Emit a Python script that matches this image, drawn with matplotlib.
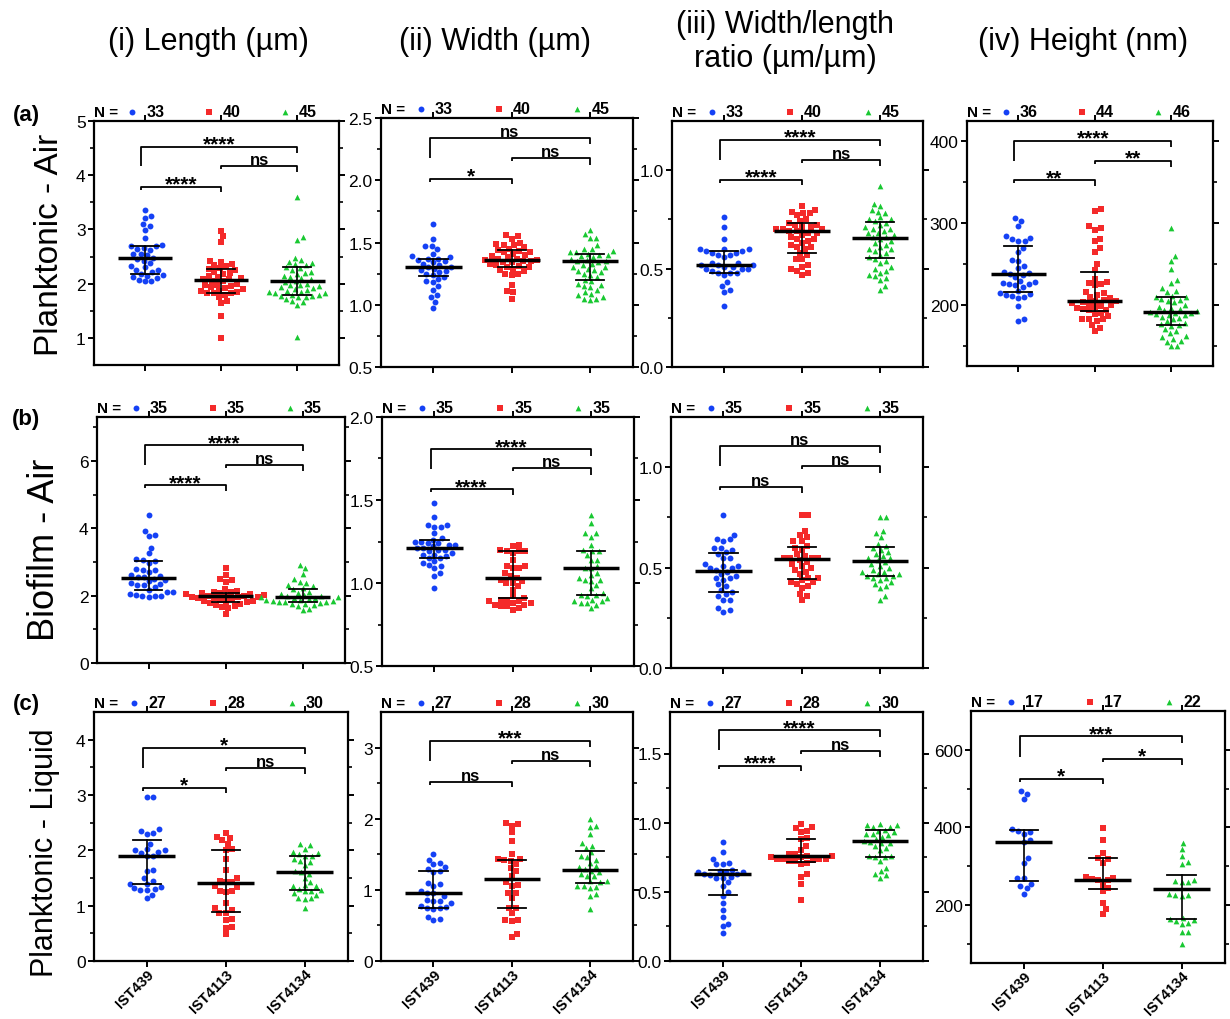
import numpy as np
import matplotlib
matplotlib.use("Agg")
import matplotlib.pyplot as plt
from matplotlib.transforms import offset_copy

plt.rcParams.update({
    "font.family": ["Liberation Sans", "DejaVu Sans"], "font.size": 12,
    "axes.linewidth": 1.6, "xtick.major.width": 1.4, "ytick.major.width": 1.4,
    "ytick.minor.width": 1.2, "xtick.major.size": 4, "ytick.major.size": 4,
    "ytick.minor.size": 3, "xtick.direction": "out", "ytick.direction": "out",
})

STRAINS = ["IST439", "IST4113", "IST4134"]
COLS = ["#1541f5", "#f42a2a", "#19c832"]
MARKS = ["o", "s", "^"]
MSIZE = [18, 15, 17]

# ---- (a) planktonic - air ----
a_len_439 = [3.35, 3.25, 3.21, 3.10, 3.07, 2.99, 2.84, 2.71, 2.70, 2.69, 2.65, 2.64, 2.62, 2.55, 2.54, 2.52, 2.48,
             2.45, 2.42, 2.38, 2.33, 2.30, 2.26, 2.25, 2.22, 2.18, 2.16, 2.15, 2.12, 2.10, 2.07, 2.05, 2.04]
a_len_4113 = [2.98, 2.87, 2.76, 2.42, 2.40, 2.36, 2.34, 2.32, 2.28, 2.27, 2.25, 2.22, 2.20, 2.18, 2.12, 2.10, 2.08,
              2.08, 2.05, 2.04, 2.00, 1.98, 1.97, 1.95, 1.93, 1.92, 1.90, 1.87, 1.86, 1.84, 1.83, 1.82, 1.82, 1.80,
              1.75, 1.68, 1.64, 1.40, 0.99, 2.15]
a_len_4134 = [3.60, 2.86, 2.80, 2.48, 2.43, 2.40, 2.38, 2.36, 2.34, 2.30, 2.28, 2.25, 2.22, 2.20, 2.18, 2.15, 2.12,
              2.10, 2.08, 2.05, 2.03, 2.00, 1.98, 1.97, 1.95, 1.93, 1.92, 1.90, 1.88, 1.87, 1.85, 1.84, 1.83, 1.82,
              1.80, 1.79, 1.78, 1.77, 1.76, 1.75, 1.72, 1.68, 1.66, 1.60, 1.02]
a_wid_439 = [1.65, 1.53, 1.47, 1.47, 1.45, 1.41, 1.39, 1.38, 1.37, 1.37, 1.36, 1.35, 1.34, 1.33, 1.32, 1.30, 1.30,
             1.29, 1.28, 1.27, 1.26, 1.25, 1.24, 1.22, 1.21, 1.19, 1.18, 1.15, 1.12, 1.08, 1.06, 1.02, 0.97]
a_wid_4113 = [1.56, 1.55, 1.53, 1.50, 1.49, 1.48, 1.48, 1.46, 1.45, 1.44, 1.43, 1.42, 1.42, 1.41, 1.40, 1.39, 1.38,
              1.37, 1.37, 1.36, 1.36, 1.35, 1.35, 1.34, 1.33, 1.32, 1.31, 1.30, 1.30, 1.29, 1.28, 1.27, 1.25, 1.25,
              1.24, 1.16, 1.11, 1.10, 1.05, 1.34]
a_wid_4134 = [1.60, 1.57, 1.54, 1.54, 1.48, 1.45, 1.45, 1.43, 1.42, 1.42, 1.41, 1.40, 1.40, 1.39, 1.38, 1.37, 1.36,
              1.35, 1.35, 1.34, 1.33, 1.32, 1.30, 1.30, 1.29, 1.28, 1.26, 1.25, 1.24, 1.22, 1.20, 1.19, 1.17, 1.16,
              1.15, 1.14, 1.12, 1.10, 1.09, 1.08, 1.06, 1.05, 1.05, 1.04, 1.27]
a_rat_439 = [0.76, 0.71, 0.65, 0.60, 0.60, 0.60, 0.59, 0.59, 0.58, 0.58, 0.57, 0.57, 0.56, 0.53, 0.53, 0.52, 0.52,
             0.52, 0.51, 0.51, 0.50, 0.50, 0.50, 0.49, 0.48, 0.48, 0.48, 0.47, 0.43, 0.41, 0.38, 0.39, 0.31]
a_rat_4113 = [0.82, 0.80, 0.79, 0.78, 0.78, 0.77, 0.75, 0.74, 0.73, 0.72, 0.72, 0.71, 0.71, 0.70, 0.70, 0.70, 0.69,
              0.69, 0.68, 0.68, 0.67, 0.66, 0.65, 0.65, 0.64, 0.63, 0.62, 0.61, 0.61, 0.60, 0.58, 0.57, 0.55, 0.55,
              0.52, 0.51, 0.50, 0.49, 0.48, 0.47]
a_rat_4134 = [0.92, 0.83, 0.82, 0.80, 0.79, 0.78, 0.76, 0.75, 0.75, 0.74, 0.73, 0.72, 0.71, 0.70, 0.70, 0.69, 0.68,
              0.68, 0.67, 0.66, 0.66, 0.65, 0.64, 0.63, 0.62, 0.61, 0.60, 0.60, 0.59, 0.58, 0.57, 0.56, 0.55, 0.54,
              0.53, 0.51, 0.50, 0.49, 0.48, 0.47, 0.46, 0.45, 0.44, 0.41, 0.39]
a_hgt_439 = [306, 303, 296, 284, 282, 280, 278, 278, 270, 265, 255, 253, 248, 245, 240, 239, 238, 236, 234, 229,
             228, 227, 226, 225, 224, 222, 217, 215, 213, 212, 211, 210, 208, 198, 183, 180]
a_hgt_4113 = [317, 315, 296, 294, 292, 281, 278, 269, 264, 250, 243, 232, 228, 227, 225, 224, 216, 214, 212, 210,
              208, 206, 205, 204, 203, 202, 201, 200, 199, 197, 196, 195, 194, 193, 190, 189, 186, 183, 182, 182,
              180, 175, 172, 168]
a_hgt_4134 = [294, 260, 254, 244, 230, 227, 221, 217, 216, 211, 210, 209, 207, 206, 205, 203, 200, 197, 196, 195,
              193, 192, 191, 190, 190, 189, 188, 187, 185, 184, 182, 180, 178, 176, 175, 174, 170, 168, 165, 162,
              160, 158, 156, 155, 150, 149]

# ---- (b) biofilm - air ----
b_len_439 = [4.40, 3.92, 3.80, 3.76, 3.42, 3.25, 3.08, 3.05, 3.02, 2.97, 2.78, 2.77, 2.76, 2.70, 2.60, 2.58, 2.55,
             2.55, 2.50, 2.45, 2.42, 2.36, 2.35, 2.32, 2.30, 2.25, 2.18, 2.12, 2.10, 2.05, 2.03, 2.00, 1.98, 1.98, 1.96]
b_len_4113 = [2.82, 2.62, 2.50, 2.45, 2.40, 2.20, 2.15, 2.12, 2.10, 2.08, 2.07, 2.05, 2.04, 2.02, 2.00, 1.99, 1.98,
              1.97, 1.96, 1.95, 1.93, 1.92, 1.90, 1.88, 1.85, 1.83, 1.81, 1.80, 1.78, 1.75, 1.72, 1.68, 1.65, 1.62, 1.45]
b_len_4134 = [2.92, 2.82, 2.65, 2.48, 2.40, 2.38, 2.30, 2.28, 2.22, 2.20, 2.12, 2.08, 2.05, 2.02, 2.00, 1.98, 1.96,
              1.95, 1.94, 1.92, 1.90, 1.88, 1.86, 1.85, 1.83, 1.82, 1.80, 1.80, 1.78, 1.76, 1.75, 1.72, 1.70, 1.60, 1.58]
b_wid_439 = [1.48, 1.40, 1.35, 1.35, 1.34, 1.34, 1.30, 1.27, 1.26, 1.25, 1.25, 1.24, 1.24, 1.23, 1.23, 1.22, 1.21,
             1.21, 1.20, 1.20, 1.19, 1.18, 1.17, 1.17, 1.16, 1.15, 1.15, 1.13, 1.12, 1.11, 1.10, 1.09, 1.06, 1.04, 0.97]
b_wid_4113 = [1.23, 1.22, 1.20, 1.19, 1.19, 1.19, 1.18, 1.14, 1.10, 1.10, 1.09, 1.09, 1.06, 1.04, 1.03, 1.02, 1.01,
              1.00, 1.00, 0.98, 0.96, 0.92, 0.91, 0.90, 0.90, 0.89, 0.88, 0.88, 0.87, 0.87, 0.86, 0.86, 0.85, 0.84, 0.89]
b_wid_4134 = [1.41, 1.36, 1.30, 1.30, 1.28, 1.23, 1.20, 1.19, 1.19, 1.17, 1.14, 1.14, 1.10, 1.09, 1.09, 1.06, 1.05,
              1.03, 1.02, 1.02, 1.01, 0.99, 0.97, 0.94, 0.93, 0.93, 0.92, 0.91, 0.90, 0.89, 0.89, 0.88, 0.88, 0.87, 0.85]
b_rat_439 = [0.76, 0.66, 0.64, 0.64, 0.63, 0.60, 0.60, 0.59, 0.58, 0.57, 0.55, 0.55, 0.52, 0.51, 0.51, 0.50, 0.50,
             0.49, 0.48, 0.47, 0.46, 0.45, 0.45, 0.44, 0.42, 0.41, 0.39, 0.38, 0.37, 0.36, 0.34, 0.34, 0.30, 0.28, 0.29]
b_rat_4113 = [0.76, 0.76, 0.68, 0.66, 0.65, 0.63, 0.63, 0.61, 0.60, 0.59, 0.57, 0.56, 0.55, 0.55, 0.55, 0.55, 0.54,
              0.53, 0.52, 0.51, 0.50, 0.49, 0.48, 0.47, 0.45, 0.45, 0.44, 0.43, 0.43, 0.42, 0.41, 0.40, 0.37, 0.36, 0.34]
b_rat_4134 = [0.75, 0.75, 0.68, 0.67, 0.65, 0.62, 0.61, 0.60, 0.59, 0.58, 0.57, 0.56, 0.55, 0.55, 0.54, 0.53, 0.52,
              0.51, 0.50, 0.49, 0.48, 0.48, 0.47, 0.47, 0.46, 0.46, 0.45, 0.45, 0.44, 0.43, 0.42, 0.41, 0.40, 0.36, 0.34]

# ---- (c) planktonic - liquid ----
c_len_439 = [2.97, 2.96, 2.38, 2.35, 2.32, 2.30, 2.12, 2.02, 2.00, 2.00, 1.97, 1.95, 1.90, 1.90, 1.64, 1.63, 1.50,
             1.45, 1.40, 1.40, 1.33, 1.32, 1.30, 1.29, 1.28, 1.20, 1.13]
c_len_4113 = [2.32, 2.24, 2.23, 2.18, 2.12, 2.03, 2.01, 1.84, 1.64, 1.50, 1.45, 1.43, 1.42, 1.35, 1.34, 1.27, 1.24,
              1.04, 0.95, 0.92, 0.87, 0.87, 0.76, 0.74, 0.61, 0.60, 0.48, 1.27]
c_len_4134 = [2.11, 2.09, 2.03, 1.97, 1.95, 1.93, 1.90, 1.89, 1.85, 1.80, 1.79, 1.73, 1.62, 1.60, 1.58, 1.50, 1.43,
              1.38, 1.36, 1.35, 1.30, 1.28, 1.27, 1.26, 1.22, 1.20, 1.14, 1.13, 1.12, 0.96]
c_wid_439 = [1.50, 1.42, 1.38, 1.36, 1.32, 1.30, 1.26, 1.25, 1.10, 1.08, 1.06, 0.98, 0.96, 0.95, 0.92, 0.86, 0.85,
             0.84, 0.81, 0.77, 0.76, 0.75, 0.74, 0.73, 0.62, 0.59, 0.57]
c_wid_4113 = [1.94, 1.93, 1.90, 1.81, 1.69, 1.51, 1.44, 1.43, 1.42, 1.40, 1.36, 1.31, 1.26, 1.20, 1.11, 1.07, 1.06,
              0.96, 0.96, 0.89, 0.75, 0.74, 0.67, 0.58, 0.57, 0.56, 0.38, 0.34]
c_wid_4134 = [2.00, 1.90, 1.89, 1.78, 1.66, 1.62, 1.59, 1.53, 1.48, 1.46, 1.42, 1.38, 1.33, 1.32, 1.29, 1.27, 1.25,
              1.22, 1.20, 1.19, 1.13, 1.12, 1.11, 1.06, 1.05, 1.04, 1.03, 0.94, 0.91, 0.73]
c_rat_439 = [0.86, 0.79, 0.74, 0.71, 0.70, 0.70, 0.66, 0.65, 0.64, 0.64, 0.64, 0.63, 0.63, 0.62, 0.61, 0.60, 0.60,
             0.57, 0.54, 0.50, 0.47, 0.42, 0.37, 0.32, 0.27, 0.25, 0.20]
c_rat_4113 = [0.99, 0.97, 0.96, 0.94, 0.93, 0.89, 0.88, 0.83, 0.80, 0.77, 0.77, 0.76, 0.76, 0.75, 0.74, 0.74, 0.74,
              0.74, 0.73, 0.72, 0.72, 0.71, 0.70, 0.63, 0.61, 0.56, 0.44, 0.75]
c_rat_4134 = [0.99, 0.98, 0.98, 0.97, 0.97, 0.95, 0.94, 0.93, 0.92, 0.92, 0.91, 0.90, 0.88, 0.87, 0.86, 0.85, 0.85,
              0.83, 0.82, 0.80, 0.76, 0.76, 0.75, 0.75, 0.72, 0.67, 0.65, 0.63, 0.62, 0.60]
c_hgt_439 = [493, 487, 473, 396, 391, 388, 382, 367, 362, 320, 308, 270, 268, 255, 248, 243, 228]
c_hgt_4113 = [398, 368, 334, 320, 318, 309, 272, 270, 266, 264, 263, 252, 243, 235, 206, 190, 176]
c_hgt_4134 = [360, 344, 327, 311, 306, 265, 262, 260, 258, 228, 226, 225, 222, 166, 163, 160, 158, 152, 150,
              130, 130, 100]

# median and interquartile range as drawn, per panel: (median, q1, q3) for each strain
a_len_stats = [(2.48, 2.18, 2.70), (2.07, 1.83, 2.27), (2.04, 1.80, 2.30)]
a_wid_stats = [(1.30, 1.23, 1.37), (1.36, 1.30, 1.44), (1.35, 1.20, 1.41)]
a_rat_stats = [(0.52, 0.48, 0.59), (0.69, 0.58, 0.73), (0.655, 0.555, 0.735)]
a_hgt_stats = [(238, 216, 272), (204, 192, 240), (191, 175, 210)]
b_len_stats = [(2.53, 2.18, 3.02), (1.98, 1.80, 2.08), (1.95, 1.82, 2.20)]
b_wid_stats = [(1.21, 1.15, 1.26), (1.03, 0.91, 1.19), (1.09, 0.93, 1.19)]
b_rat_stats = [(0.485, 0.38, 0.575), (0.545, 0.445, 0.605), (0.535, 0.46, 0.605)]
c_len_stats = [(1.90, 1.40, 2.18), (1.41, 0.89, 2.01), (1.61, 1.28, 1.90)]
c_wid_stats = [(0.96, 0.75, 1.26), (1.15, 0.74, 1.42), (1.28, 1.10, 1.54)]
c_rat_stats = [(0.63, 0.475, 0.655), (0.76, 0.715, 0.885), (0.865, 0.755, 0.945)]
c_hgt_stats = [(362, 262, 393), (265, 240, 320), (240, 163, 276)]

# significance labels: (0 vs 1, 1 vs 2, 0 vs 2)
a_len_sig = ["****", "ns", "****"]
a_wid_sig = ["*", "ns", "ns"]
a_rat_sig = ["****", "ns", "****"]
a_hgt_sig = ["**", "**", "****"]
b_len_sig = ["****", "ns", "****"]
b_wid_sig = ["****", "ns", "****"]
b_rat_sig = ["ns", "ns", "ns"]
c_len_sig = ["*", "ns", "*"]
c_wid_sig = ["ns", "ns", "***"]
c_rat_sig = ["****", "ns", "****"]
c_hgt_sig = ["*", "*", "***"]

col_titles = ["(i) Length (µm)", "(ii) Width (µm)", "(iii) Width/length\nratio (µm/µm)", "(iv) Height (nm)"]
row_titles = ["Planktonic - Air", "Biofilm - Air", "Planktonic - Liquid"]
row_tags = ["(a)", "(b)", "(c)"]

W, H = 1230, 1020
fig = plt.figure(figsize=(W / 100, H / 100), dpi=100)


def swarm_x(ax, xc, vals, d=6.4):
    pts = ax.transData.transform(np.column_stack([np.full(len(vals), xc), vals]))
    ypx = pts[:, 1]
    px, py = [], []
    xo = np.zeros(len(vals))
    for i in np.argsort(ypx):
        y = ypx[i]
        cands = [0.0]
        for a, b in zip(px, py):
            dy = abs(b - y)
            if dy < d:
                dx = np.sqrt(d * d - dy * dy)
                cands += [a + dx, a - dx]
        cands.sort(key=abs)
        for c in cands:
            if all((c - a) ** 2 + (y - b) ** 2 >= d * d - 1e-6 for a, b in zip(px, py)):
                break
        px.append(c); py.append(y); xo[i] = c
    back = ax.transData.inverted().transform(np.column_stack([pts[:, 0] + xo, ypx]))
    return back[:, 0]


def panel(rect, groups, stats, sig, ylim, major, minor, fmt, brk, xlabels=False):
    l, t, r, b = rect
    ax = fig.add_axes([l / W, 1 - b / H, (r - l) / W, (b - t) / H])
    ax.set_xlim(-0.67, 2.55)
    ax.set_ylim(*ylim)
    ax.set_yticks(major)
    ax.set_yticklabels([fmt.format(v) for v in major])
    ax.set_yticks(minor, minor=True)
    ax.set_xticks([0, 1, 2])
    ax.tick_params(axis="y", which="both", left=True, right=True, labelsize=12.5, pad=2)
    ax.tick_params(axis="x", top=True, bottom=True, labeltop=False, labelbottom=xlabels, pad=0)
    if xlabels:
        ax.set_xticklabels(STRAINS, rotation=45, ha="right", rotation_mode="anchor",
                           fontsize=10.5, fontweight="bold")
    for i, vals in enumerate(groups):
        xs = swarm_x(ax, i, vals)
        ax.scatter(xs, vals, s=MSIZE[i], marker=MARKS[i], color=COLS[i], linewidths=0, zorder=2)
        med, q1, q3 = stats[i]
        ax.plot([i - 0.36, i + 0.36], [med, med], color="k", lw=2.5, zorder=3, solid_capstyle="butt")
        ax.plot([i, i], [q1, q3], color="k", lw=1.2, zorder=3)
        for q in (q1, q3):
            ax.plot([i - 0.18, i + 0.18], [q, q], color="k", lw=1.3, zorder=3)
    # significance brackets
    y0, y1 = ylim
    span = y1 - y0
    pairs = [(-0.05, 1.0), (1.0, 2.0), (-0.05, 2.0)]
    legs = [(0.012, 0.022), (0.012, 0.025), (0.08, 0.025)]
    for k, ((xa, xb), (lg1, lg2), txt) in enumerate(zip(pairs, legs, sig)):
        yb = y0 + brk[k] * span
        ax.plot([xa, xa, xb, xb], [yb - lg1 * span, yb, yb, yb - lg2 * span], color="k", lw=1.3,
                clip_on=False, solid_capstyle="butt")
        if txt == "ns":
            ax.annotate(txt, ((xa + xb) / 2, yb), xytext=(0, 1.5), textcoords="offset points",
                        ha="center", va="baseline", fontsize=12, fontweight="bold")
        else:
            ax.annotate(txt, ((xa + xb) / 2, yb), xytext=(0, -2.0), textcoords="offset points",
                        ha="center", va="baseline", fontsize=15, fontweight="bold")
    # N = header
    tr = ax.get_xaxis_transform()
    ax.annotate("N =", (0, 1), xycoords="axes fraction", xytext=(0, 6.5), textcoords="offset points",
                ha="left", va="center", fontsize=11, fontweight="bold")
    for i, vals in enumerate(groups):
        mt = offset_copy(tr, fig=fig, x=-9, y=6.5, units="points")
        ax.scatter([i], [1], s=MSIZE[i], marker=MARKS[i], color=COLS[i], linewidths=0,
                   transform=mt, clip_on=False)
        ax.annotate(str(len(vals)), (i, 1), xycoords=tr, xytext=(1, 6.5), textcoords="offset points",
                    ha="left", va="center", fontsize=11.5, fontweight="bold")
    return ax


panel((94, 122, 339, 366), [a_len_439, a_len_4113, a_len_4134], a_len_stats, a_len_sig, (0.5, 5),
      [1, 2, 3, 4, 5], [1.5, 2.5, 3.5, 4.5], "{:.0f}", [0.731, 0.816, 0.895])
panel((381, 119, 633, 368), [a_wid_439, a_wid_4113, a_wid_4134], a_wid_stats, a_wid_sig, (0.5, 2.5),
      [0.5, 1.0, 1.5, 2.0, 2.5], [0.75, 1.25, 1.75, 2.25], "{:.1f}", [0.755, 0.838, 0.920])
panel((672, 122, 923, 368), [a_rat_439, a_rat_4113, a_rat_4134], a_rat_stats, a_rat_sig, (0, 1.25),
      [0.0, 0.5, 1.0], [0.25, 0.75], "{:.1f}", [0.761, 0.842, 0.923])
panel((967, 122, 1213, 367), [a_hgt_439, a_hgt_4113, a_hgt_4134], a_hgt_stats, a_hgt_sig, (125, 425),
      [200, 300, 400], [150, 250, 350], "{:.0f}", [0.758, 0.837, 0.918])
panel((97, 418, 345, 664), [b_len_439, b_len_4113, b_len_4134], b_len_stats, b_len_sig, (0, 7.3),
      [0, 2, 4, 6], [1, 3, 5, 7], "{:.0f}", [0.722, 0.804, 0.885])
panel((382, 418, 634, 667), [b_wid_439, b_wid_4113, b_wid_4134], b_wid_stats, b_wid_sig, (0.5, 2.0),
      [0.5, 1.0, 1.5, 2.0], [0.75, 1.25, 1.75], "{:.1f}", [0.710, 0.794, 0.870])
panel((671, 418, 923, 669), [b_rat_439, b_rat_4113, b_rat_4134], b_rat_stats, b_rat_sig, (0, 1.25),
      [0.0, 0.5, 1.0], [0.25, 0.75], "{:.1f}", [0.721, 0.803, 0.883])
panel((94, 713, 348, 962), [c_len_439, c_len_4113, c_len_4134], c_len_stats, c_len_sig, (0, 4.5),
      [0, 1, 2, 3, 4], [0.5, 1.5, 2.5, 3.5], "{:.0f}", [0.695, 0.774, 0.857], xlabels=True)
panel((381, 713, 633, 962), [c_wid_439, c_wid_4113, c_wid_4134], c_wid_stats, c_wid_sig, (0, 3.5),
      [0, 1, 2, 3], [0.5, 1.5, 2.5], "{:.0f}", [0.719, 0.803, 0.884], xlabels=True)
panel((670, 713, 923, 962), [c_rat_439, c_rat_4113, c_rat_4134], c_rat_stats, c_rat_sig, (0, 1.8),
      [0.0, 0.5, 1.0, 1.5], [0.25, 0.75, 1.25], "{:.1f}", [0.785, 0.843, 0.926], xlabels=True)
panel((971, 712, 1225, 964), [c_hgt_439, c_hgt_4113, c_hgt_4134], c_hgt_stats, c_hgt_sig, (50, 700),
      [200, 400, 600], [100, 300, 500], "{:.0f}", [0.731, 0.810, 0.899], xlabels=True)

# column / row headings
for x, txt in zip([208, 495, 785, 1083], col_titles):
    fig.text(x / W, 1 - 42 / H, txt, ha="center", va="center", fontsize=22, linespacing=1.2)
for (x, y, fs), txt in zip([(50, 245, 24), (45, 550, 26), (45, 853, 22)], row_titles):
    fig.text(x / W, 1 - y / H, txt, ha="center", va="center", rotation=90, fontsize=fs)
for y, txt in zip([115, 420, 705], row_tags):
    fig.text(26 / W, 1 - y / H, txt, ha="center", va="center", fontsize=16, fontweight="bold")

fig.savefig("out.png", dpi=100)
